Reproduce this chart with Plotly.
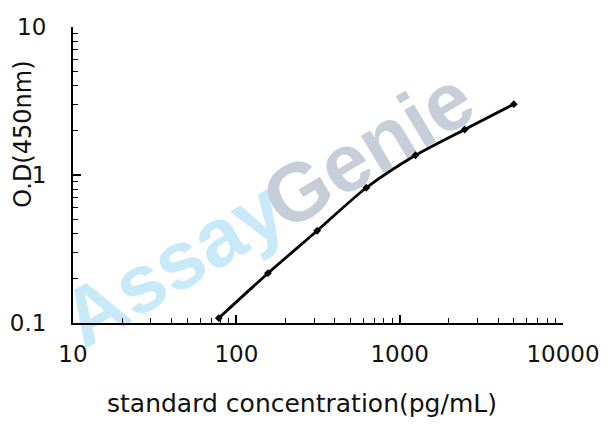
import plotly.graph_objects as go

# standard curve (pg/mL vs O.D at 450nm)
concentration = [78.125, 156.25, 312.5, 625, 1250, 2500, 5000]
od_450 = [0.108, 0.217, 0.42, 0.82, 1.36, 2.03, 3.01]

x_ticks = [10, 100, 1000, 10000]
x_tick_labels = ["10", "100", "1000", "10000"]
y_ticks = [0.1, 1, 10]
y_tick_labels = ["0.1", "1", "10"]

font_family = "DejaVu Sans"

fig = go.Figure()
fig.add_trace(go.Scatter(
    x=concentration,
    y=od_450,
    mode="lines+markers",
    line=dict(color="black", width=2.8, shape="spline", smoothing=0.8),
    marker=dict(symbol="diamond", size=6, color="black"),
    showlegend=False,
))

# watermark, kept under the curve
fig.add_shape(type="rect", xref="paper", yref="paper",
              x0=0.185, x1=0.205, y0=0.215, y1=0.235,
              line=dict(width=0), layer="below",
              label=dict(text="<b>Assay</b>", textangle=-31,
                         font=dict(family="Liberation Sans", size=82, color="#c8e9f8")))
fig.add_shape(type="rect", xref="paper", yref="paper",
              x0=0.583, x1=0.603, y0=0.6, y1=0.62,
              line=dict(width=0), layer="below",
              label=dict(text="<b>Genie</b>", textangle=-31,
                         font=dict(family="Liberation Sans", size=82, color="#c6cfd9")))

fig.add_annotation(text="standard concentration(pg/mL)", xref="paper", yref="paper",
                   x=0.467, y=-0.272, xanchor="center", yanchor="middle", showarrow=False,
                   font=dict(family=font_family, size=25, color="#111111"))
fig.add_annotation(text="O.D(450nm)", xref="paper", yref="paper",
                   x=-0.101, y=0.638, xanchor="center", yanchor="middle",
                   showarrow=False, textangle=-90,
                   font=dict(family=font_family, size=24, color="#111111"))

fig.update_xaxes(
    type="log", range=[1, 4],
    tickvals=x_ticks, ticktext=x_tick_labels,
    ticks="inside", ticklen=8, tickwidth=1.5, tickcolor="black",
    minor=dict(ticks="inside", ticklen=5, tickwidth=1.2, tickcolor="black", dtick="D1"),
    showline=True, linecolor="black", linewidth=2,
    showgrid=False, zeroline=False, automargin=False,
    ticklabelstandoff=9,
    tickfont=dict(family=font_family, size=23, color="#111111"),
)
fig.update_yaxes(
    type="log", range=[-1, 1],
    tickvals=y_ticks, ticktext=y_tick_labels,
    ticks="inside", ticklen=8, tickwidth=1.5, tickcolor="black",
    minor=dict(ticks="inside", ticklen=5, tickwidth=1.2, tickcolor="black", dtick="D1"),
    showline=True, linecolor="black", linewidth=2,
    showgrid=False, zeroline=False, automargin=False,
    ticklabelstandoff=20,
    tickfont=dict(family=font_family, size=23, color="#111111"),
)
# page body adds an 8px offset, so the figure is drawn at 600x419
fig.update_layout(
    width=600, height=419,
    margin=dict(l=65, r=45, t=19, b=104),
    plot_bgcolor="white", paper_bgcolor="white",
)
fig.write_html("out.html")
